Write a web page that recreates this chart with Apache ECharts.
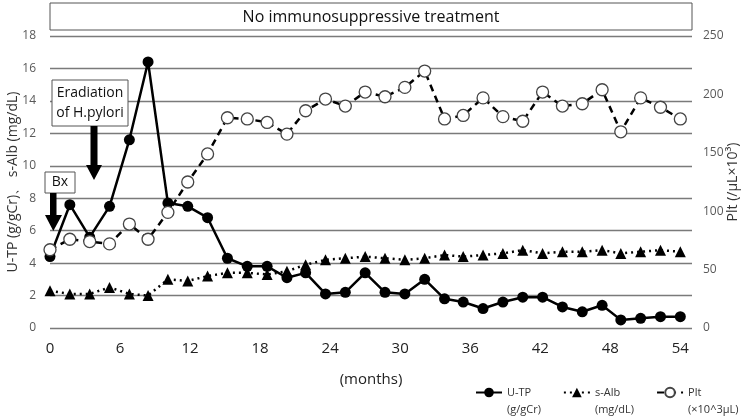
<!DOCTYPE html>
<html>
<head>
<meta charset="utf-8">
<script src="https://cdn.jsdelivr.net/npm/echarts@6/dist/echarts.min.js"></script>
<style>
  html, body { margin: 0; padding: 0; background: #fff; }
  #chart { width: 749px; height: 417px; }
</style>
</head>
<body>
<div id="chart"></div>
<script>
// months since onset (points are evenly spaced in the picture)
const months = [0, 1.7, 3.4, 5.1, 6.8, 8.4, 10.1, 11.8, 13.5, 15.2, 16.9, 18.6, 20.3, 21.9, 23.6, 25.3,
  27.0, 28.7, 30.4, 32.1, 33.8, 35.4, 37.1, 38.8, 40.5, 42.2, 43.9, 45.6, 47.3, 48.9, 50.6, 52.3, 54.0]

// U-TP (g/gCr)
const utp = [4.4, 7.6, 5.6, 7.5, 11.6, 16.4, 7.7, 7.5, 6.8, 4.3, 3.8, 3.8, 3.1, 3.4, 2.1, 2.2,
  3.4, 2.2, 2.1, 3.0, 1.8, 1.6, 1.2, 1.6, 1.9, 1.9, 1.3, 1.0, 1.4, 0.5, 0.6, 0.7, 0.7]

// s-Alb (mg/dL)
const salb = [2.3, 2.1, 2.1, 2.5, 2.1, 2.0, 3.0, 2.9, 3.2, 3.4, 3.4, 3.3, 3.5, 3.9, 4.2, 4.3,
  4.4, 4.3, 4.2, 4.3, 4.5, 4.4, 4.5, 4.6, 4.8, 4.6, 4.7, 4.7, 4.8, 4.6, 4.7, 4.8, 4.7]

// Plt (x10^3 /uL), right axis
const plt = [67, 76, 74, 72, 89, 76, 99, 125, 149, 180, 179, 176, 166, 186, 196, 190,
  202, 198, 206, 220, 179, 182, 197, 181, 177, 202, 190, 192, 204, 168, 197, 189, 179]

const xTicks = [0, 6, 12, 18, 24, 30, 36, 42, 48, 54]

const FONT = 'Open Sans'
const pair = arr => arr.map((v, i) => [months[i], v])

const chart = echarts.init(document.getElementById('chart'), null, { renderer: 'canvas' })

chart.setOption({
  backgroundColor: '#fff',
  textStyle: { fontFamily: FONT },
  animation: false,
  grid: { left: 50, right: 57, top: 36, bottom: 89, containLabel: false, outerBoundsMode: 'none' },
  xAxis: {
    type: 'value',
    min: 0,
    max: 55,
    interval: 6,
    name: '(months)',
    nameLocation: 'middle',
    nameGap: 44,
    nameMoveOverlap: false,
    nameTextStyle: { fontSize: 15, color: '#222', fontFamily: FONT },
    axisLine: { show: false },
    axisTick: { show: false },
    splitLine: { show: false },
    axisLabel: {
      fontSize: 15,
      color: '#222',
      margin: 13,
      fontFamily: FONT,
      formatter: v => (xTicks.includes(v) ? String(v) : ''),
    },
  },
  yAxis: [
    {
      type: 'value',
      min: 0,
      max: 18,
      interval: 2,
      name: 'U-TP (g/gCr)、 s-Alb (mg/dL)',
      nameLocation: 'middle',
      nameRotate: 90,
      nameGap: 30,
      nameMoveOverlap: false,
      nameTextStyle: { fontSize: 14, color: '#333', fontFamily: FONT },
      axisLine: { show: false },
      axisTick: { show: false },
      axisLabel: { fontSize: 12, color: '#595959', margin: 14, fontFamily: FONT },
      splitLine: { lineStyle: { color: '#7a7a7a', width: 1.3 } },
    },
    {
      type: 'value',
      position: 'right',
      min: 0,
      max: 250,
      interval: 50,
      name: 'Plt (/μL×10³)',
      nameLocation: 'middle',
      nameRotate: 90,
      nameGap: 34,
      nameMoveOverlap: false,
      nameTextStyle: { fontSize: 14, color: '#333', fontFamily: FONT },
      axisLine: { show: false },
      axisTick: { show: false },
      axisLabel: { fontSize: 12, color: '#595959', margin: 11, fontFamily: FONT },
      splitLine: { show: false },
    },
  ],
  legend: {
    left: 475,
    top: 367,
    padding: 0,
    itemWidth: 26,
    itemHeight: 12,
    itemGap: 22,
    textStyle: { fontSize: 11, color: '#333', lineHeight: 17, fontFamily: FONT },
    formatter: name => ({
      'U-TP': '\nU-TP\n(g/gCr)',
      's-Alb': '\ns-Alb\n(mg/dL)',
      'Plt': '\nPlt\n(×10^3μL)',
    }[name]),
    data: ['U-TP', 's-Alb', 'Plt'],
  },
  series: [
    {
      name: 'U-TP',
      type: 'line',
      yAxisIndex: 0,
      data: pair(utp),
      symbol: 'circle',
      symbolSize: 11,
      itemStyle: { color: '#000' },
      lineStyle: { color: '#000', width: 2.5 },
      z: 3,
    },
    {
      name: 's-Alb',
      type: 'line',
      yAxisIndex: 0,
      data: pair(salb),
      symbol: 'triangle',
      symbolSize: 11,
      itemStyle: { color: '#000' },
      lineStyle: { color: '#000', width: 2.5, type: [2, 4] },
      z: 3,
    },
    {
      name: 'Plt',
      type: 'line',
      yAxisIndex: 1,
      data: pair(plt),
      symbol: 'circle',
      symbolSize: 12,
      itemStyle: { color: '#fff', borderColor: '#444', borderWidth: 1.3 },
      lineStyle: { color: '#000', width: 2.5, type: [7, 5] },
      z: 4,
    },
  ],
  graphic: [
    // treatment banner
    {
      type: 'rect', z: 100,
      shape: { x: 50, y: 3, width: 642, height: 27 },
      style: { fill: '#fff', stroke: '#555', lineWidth: 1 },
    },
    {
      type: 'text', z: 101, x: 371, y: 17,
      style: { text: 'No immunosuppressive treatment', font: '16px "Open Sans"', fill: '#111', align: 'center', verticalAlign: 'middle' },
    },
    // Eradiation annotation
    {
      type: 'rect', z: 100,
      shape: { x: 52, y: 80, width: 76, height: 46 },
      style: { fill: '#fff', stroke: '#555', lineWidth: 1 },
    },
    {
      type: 'text', z: 101, x: 90, y: 103,
      style: { text: 'Eradiation\nof H.pylori', font: '14px "Open Sans"', lineHeight: 20, fill: '#111', align: 'center', verticalAlign: 'middle' },
    },
    {
      type: 'polygon', z: 100,
      shape: { points: [[90.5, 126], [97.5, 126], [97.5, 165], [102, 165], [94, 180], [86, 165], [90.5, 165]] },
      style: { fill: '#000' },
    },
    // Bx annotation
    {
      type: 'rect', z: 100,
      shape: { x: 45, y: 172, width: 30, height: 21 },
      style: { fill: '#fff', stroke: '#555', lineWidth: 1 },
    },
    {
      type: 'text', z: 101, x: 60, y: 182.5,
      style: { text: 'Bx', font: '14px "Open Sans"', fill: '#111', align: 'center', verticalAlign: 'middle' },
    },
    {
      type: 'polygon', z: 100,
      shape: { points: [[50, 193], [56.5, 193], [56.5, 215], [62, 215], [53.3, 231], [45, 215], [50, 215]] },
      style: { fill: '#000' },
    },
  ],
})
</script>
</body>
</html>
